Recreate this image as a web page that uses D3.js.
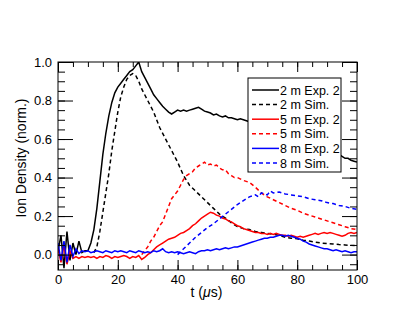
<!DOCTYPE html>
<html>
<head>
<meta charset="utf-8">
<script src="https://cdn.jsdelivr.net/npm/d3@7"></script>
<style>
  body { margin: 0; background: #fff; }
  svg text { font-family: "Liberation Sans", Arial, Helvetica, sans-serif; fill: #000; }
</style>
</head>
<body>
<div id="chart"></div>
<script>
// time grid of the measured traces (1 us steps, 0..100)
var tExp = d3.range(0, 101, 1);

// measured traces, one value per microsecond
var exp2m = [
  0.02, 0.10, -0.07, 0.12, -0.03, 0.06, 0.00, 0.07, 0.01, 0.02,
  0.02, 0.06, 0.13, 0.24, 0.38, 0.52, 0.63, 0.72, 0.79, 0.84,
  0.87, 0.89, 0.91, 0.93, 0.95, 0.96, 0.98, 1.00, 0.95, 0.92,
  0.89, 0.86, 0.83, 0.81, 0.79, 0.77, 0.755, 0.74, 0.73, 0.74,
  0.75, 0.745, 0.75, 0.745, 0.75, 0.755, 0.76, 0.765, 0.755, 0.745,
  0.74, 0.735, 0.725, 0.73, 0.72, 0.715, 0.72, 0.71, 0.71, 0.705,
  0.70, 0.705, 0.70, 0.695, 0.69, 0.69, 0.685, 0.68, 0.675, 0.67,
  0.665, 0.66, 0.65, 0.645, 0.64, 0.63, 0.625, 0.62, 0.61, 0.60,
  0.595, 0.59, 0.58, 0.575, 0.57, 0.56, 0.555, 0.55, 0.545, 0.54,
  0.53, 0.525, 0.52, 0.515, 0.52, 0.51, 0.50, 0.50, 0.49, 0.485,
  0.48
];
var exp5m = [
  0.03, -0.04, 0.05, -0.05, 0.02, -0.02, -0.01, -0.02, -0.01, -0.015,
  -0.01, -0.015, -0.01, -0.02, -0.01, -0.015, -0.005, -0.01, -0.02, -0.01,
  -0.015, -0.01, -0.005, -0.01, -0.02, -0.01, -0.015, -0.005, -0.025, -0.015,
  0.00, 0.01, 0.025, 0.04, 0.05, 0.06, 0.07, 0.08, 0.085, 0.09,
  0.10, 0.11, 0.115, 0.125, 0.135, 0.15, 0.16, 0.175, 0.19, 0.20,
  0.21, 0.22, 0.215, 0.205, 0.20, 0.19, 0.185, 0.175, 0.17, 0.16,
  0.15, 0.145, 0.135, 0.13, 0.125, 0.12, 0.115, 0.115, 0.11, 0.11,
  0.105, 0.11, 0.105, 0.11, 0.105, 0.10, 0.10, 0.095, 0.10, 0.095,
  0.09, 0.095, 0.09, 0.095, 0.10, 0.105, 0.11, 0.105, 0.11, 0.115,
  0.11, 0.115, 0.11, 0.105, 0.10, 0.095, 0.10, 0.11, 0.115, 0.11,
  0.115
];
var exp8m = [
  0.06, -0.03, 0.07, -0.04, 0.05, -0.01, 0.03, 0.005, 0.02, 0.015,
  0.02, 0.01, 0.015, 0.02, 0.015, 0.01, 0.02, 0.015, 0.01, 0.02,
  0.015, 0.02, 0.015, 0.01, 0.02, 0.015, 0.01, 0.02, 0.015, 0.01,
  0.015, 0.01, 0.02, 0.015, 0.02, 0.03, 0.015, 0.01, 0.015, 0.01,
  0.015, 0.01, 0.005, 0.01, 0.015, 0.01, 0.005, 0.015, 0.02, 0.02,
  0.025, 0.02, 0.025, 0.03, 0.025, 0.03, 0.035, 0.03, 0.035, 0.04,
  0.04, 0.045, 0.05, 0.055, 0.06, 0.065, 0.07, 0.075, 0.08, 0.085,
  0.085, 0.09, 0.09, 0.095, 0.10, 0.10, 0.095, 0.10, 0.095, 0.09,
  0.085, 0.08, 0.07, 0.065, 0.055, 0.05, 0.045, 0.04, 0.035, 0.03,
  0.03, 0.025, 0.02, 0.025, 0.02, 0.015, 0.02, 0.015, 0.01, 0.015,
  0.015
];

// simulated traces
var tSim2m = [12, 13, 14, 15, 16, 17, 18, 19, 20, 21, 22, 23, 24, 25, 26, 27, 28, 29, 30,
  32, 34, 36, 38, 40, 42, 44, 46, 48, 50, 52, 54, 56, 58, 60, 62, 64, 66, 68, 70,
  72, 74, 76, 78, 80, 82, 84, 86, 88, 90, 92, 94, 96, 98, 100];
var sim2m = [0.01, 0.04, 0.12, 0.22, 0.32, 0.42, 0.54, 0.64, 0.74, 0.82, 0.87, 0.91, 0.93, 0.94, 0.93, 0.90, 0.86, 0.83, 0.80,
  0.74, 0.66, 0.60, 0.54, 0.48, 0.41, 0.36, 0.33, 0.30, 0.27, 0.24, 0.21, 0.19, 0.165, 0.145, 0.135, 0.13, 0.12, 0.115, 0.11,
  0.105, 0.10, 0.09, 0.085, 0.082, 0.075, 0.07, 0.065, 0.06, 0.057, 0.055, 0.052, 0.05, 0.048, 0.047];

var tSim5m = [28, 29, 30, 31, 32, 33, 34, 35, 36, 37, 38, 39, 40, 41, 42, 43, 44, 45, 46, 47, 48, 49,
  50, 51, 52, 53, 54, 55, 56, 57, 58, 59, 60, 62, 64, 66, 68, 70, 72, 74, 76, 78, 80,
  82, 84, 86, 88, 90, 92, 94, 96, 98, 100];
var sim5m = [0.0, 0.02, 0.04, 0.07, 0.09, 0.12, 0.15, 0.17, 0.21, 0.25, 0.29, 0.31, 0.33, 0.36, 0.39, 0.41, 0.42, 0.43, 0.45, 0.46, 0.47, 0.48,
  0.465, 0.47, 0.46, 0.465, 0.45, 0.44, 0.44, 0.42, 0.41, 0.40, 0.40, 0.385, 0.375, 0.35, 0.32, 0.30, 0.285, 0.27, 0.255, 0.24, 0.23,
  0.215, 0.205, 0.195, 0.185, 0.175, 0.165, 0.155, 0.145, 0.135, 0.13];

var tSim8m = [40, 42, 44, 46, 48, 50, 52, 54, 56, 58, 60, 62, 64, 66, 67, 68, 70, 71, 72, 74, 76, 78,
  80, 82, 84, 86, 88, 90, 92, 94, 96, 98, 100];
var sim8m = [0.0, 0.03, 0.06, 0.09, 0.115, 0.14, 0.16, 0.185, 0.21, 0.235, 0.26, 0.28, 0.30, 0.31, 0.30, 0.32, 0.31, 0.33, 0.32, 0.325, 0.315, 0.31,
  0.305, 0.30, 0.29, 0.285, 0.28, 0.27, 0.265, 0.255, 0.25, 0.24, 0.235];

var legendLabels = ['2 m Exp. 2', '2 m Sim.', '5 m Exp. 2', '5 m Sim.', '8 m Exp. 2', '8 m Sim.'];
var xMajor = [0, 20, 40, 60, 80, 100];
var yMajor = [0.0, 0.2, 0.4, 0.6, 0.8, 1.0];

var W = 416, H = 332;
var m = { left: 58, right: 59, top: 62, bottom: 62 };
var pw = W - m.left - m.right, ph = H - m.top - m.bottom;

var svg = d3.select('#chart').append('svg')
    .attr('width', W)
    .attr('height', H);

var x = d3.scaleLinear().domain([0, 100]).range([0, pw]);
var y = d3.scaleLinear().domain([-0.08, 1.0]).range([ph, 0]);

var g = svg.append('g').attr('transform', 'translate(' + m.left + ',' + m.top + ')');

g.append('clipPath').attr('id', 'clip')
  .append('rect').attr('width', pw).attr('height', ph);

var series = [
  { t: tExp, v: exp2m, color: '#000', dash: null },
  { t: tSim2m, v: sim2m, color: '#000', dash: '4,3' },
  { t: tExp, v: exp5m, color: '#f00', dash: null },
  { t: tSim5m, v: sim5m, color: '#f00', dash: '4,3' },
  { t: tExp, v: exp8m, color: '#00f', dash: null },
  { t: tSim8m, v: sim8m, color: '#00f', dash: '4,3' }
];

var line = d3.line()
    .x(function(d) { return x(d[0]); })
    .y(function(d) { return y(d[1]); });

var plot = g.append('g').attr('clip-path', 'url(#clip)');
series.forEach(function(s) {
  plot.append('path')
    .datum(d3.zip(s.t, s.v))
    .attr('d', line)
    .attr('fill', 'none')
    .attr('stroke', s.color)
    .attr('stroke-width', 1.5)
    .attr('stroke-dasharray', s.dash);
});

//axes: major and minor ticks point inward on all four sides
function styleAxis(sel) {
  sel.select('.domain').remove();
  sel.selectAll('text').style('font-size', '13px').style('font-family', null);
}
var xMinor = d3.range(0, 101, 5), yMinor = d3.range(-0.05, 1.001, 0.05);

g.append('g').attr('transform', 'translate(0,' + ph + ')')
  .call(d3.axisBottom(x).tickValues(xMinor).tickSize(-5).tickFormat(''))
  .call(styleAxis);
g.append('g').attr('transform', 'translate(0,' + ph + ')')
  .call(d3.axisBottom(x).tickValues(xMajor).tickSizeInner(-10).tickSizeOuter(0).tickPadding(5).tickFormat(d3.format('d')))
  .call(styleAxis);
g.append('g')
  .call(d3.axisTop(x).tickValues(xMinor).tickSize(-5).tickFormat(''))
  .call(styleAxis);
g.append('g')
  .call(d3.axisTop(x).tickValues(xMajor).tickSize(-10).tickFormat(''))
  .call(styleAxis);

g.append('g')
  .call(d3.axisLeft(y).tickValues(yMinor).tickSize(-7).tickFormat(''))
  .call(styleAxis);
g.append('g')
  .call(d3.axisLeft(y).tickValues(yMajor).tickSizeInner(-15).tickSizeOuter(0).tickPadding(6).tickFormat(d3.format('.1f')))
  .call(styleAxis);
g.append('g').attr('transform', 'translate(' + pw + ',0)')
  .call(d3.axisRight(y).tickValues(yMinor).tickSize(-7).tickFormat(''))
  .call(styleAxis);
g.append('g').attr('transform', 'translate(' + pw + ',0)')
  .call(d3.axisRight(y).tickValues(yMajor).tickSize(-15).tickFormat(''))
  .call(styleAxis);

g.append('rect')
  .attr('width', pw).attr('height', ph)
  .attr('fill', 'none').attr('stroke', '#000').attr('stroke-width', 1);

// axis titles
var xt = svg.append('text')
  .attr('x', m.left + pw / 2 - 1)
  .attr('y', 297)
  .attr('text-anchor', 'middle')
  .style('font-size', '14px');
xt.append('tspan').text('t (');
xt.append('tspan').style('font-style', 'italic').text('\u03bc');
xt.append('tspan').text('s)');

svg.append('text')
  .attr('transform', 'translate(26,158) rotate(-90)')
  .attr('text-anchor', 'middle')
  .style('font-size', '14px')
  .text('Ion Density (norm.)');

// legend
var lg = svg.append('g').attr('transform', 'translate(248,78)');
lg.append('rect').attr('width', 93).attr('height', 94)
  .attr('fill', '#fff').attr('stroke', '#000').attr('stroke-width', 1);
legendLabels.forEach(function(lab, i) {
  var s = series[i], yy = 12 + i * 14.6;
  lg.append('line')
    .attr('x1', 4).attr('x2', 31).attr('y1', yy).attr('y2', yy)
    .attr('stroke', s.color).attr('stroke-width', 1.5)
    .attr('stroke-dasharray', s.dash);
  lg.append('text')
    .attr('x', 32).attr('y', yy + 4.5)
    .style('font-size', '12.5px')
    .text(lab);
});
</script>
</body>
</html>
